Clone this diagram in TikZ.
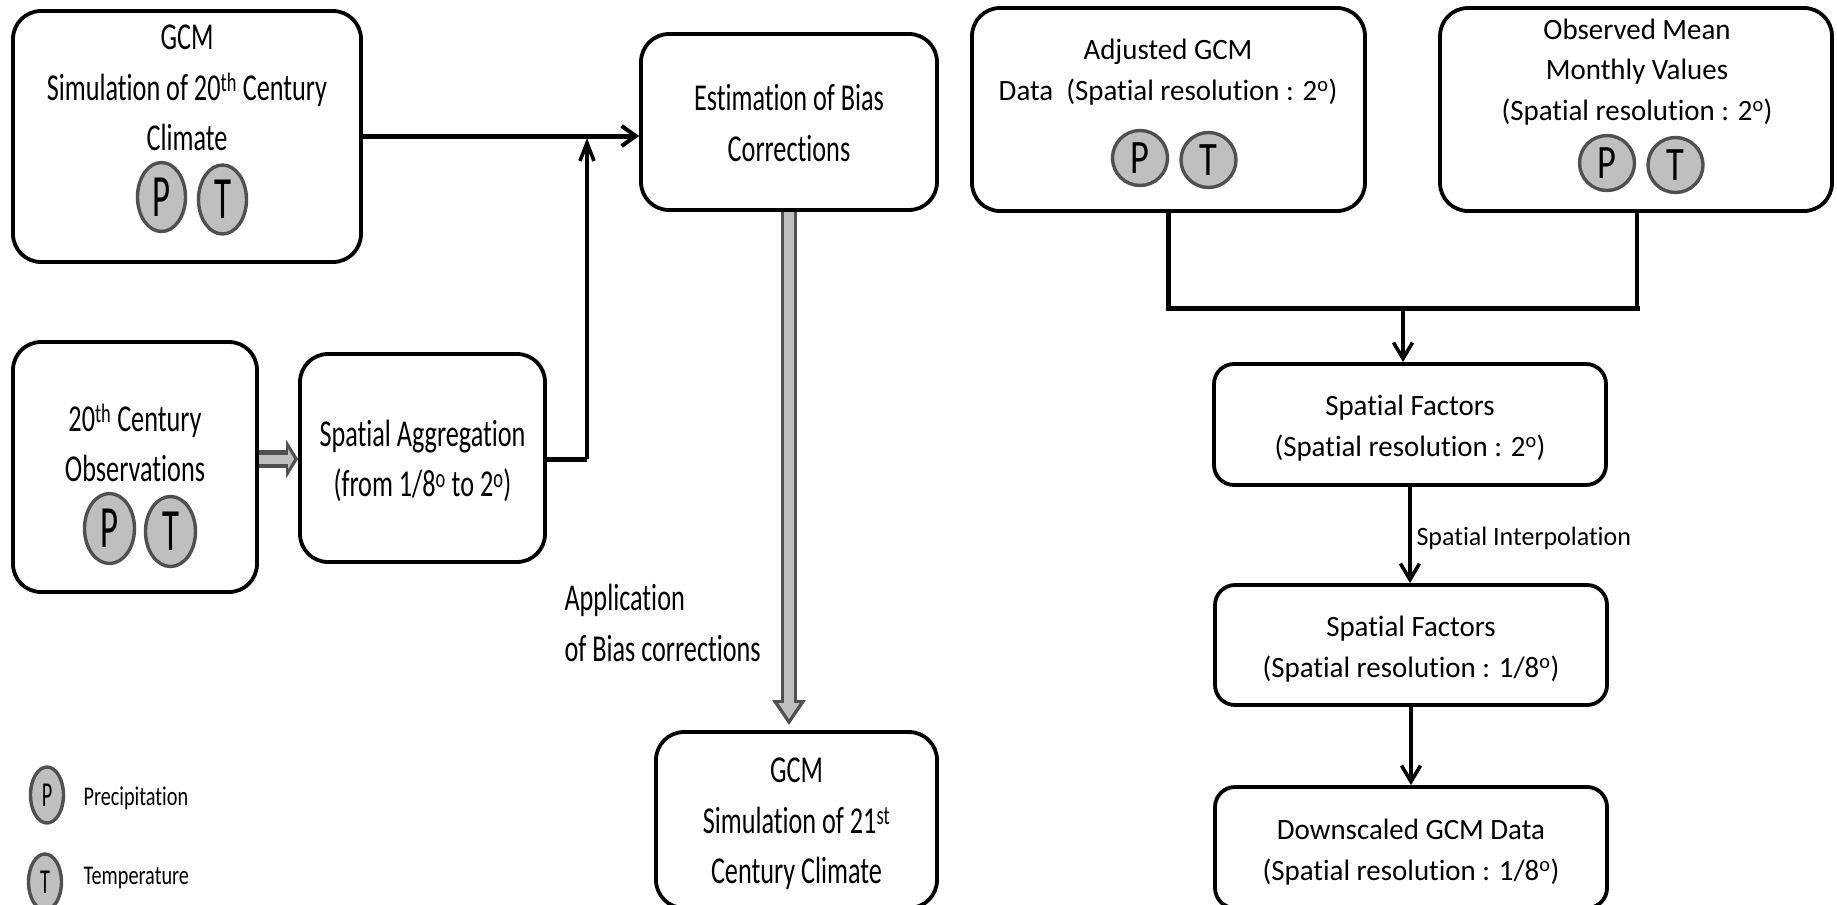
\documentclass[tikz,border=0pt]{standalone}
\usepackage{fontspec}
\setmainfont{Carlito}
\newfontfamily\narrowfont[FakeStretch=0.69,Ligatures=NoCommon]{Carlito}
\newfontfamily\plainfont[FakeStretch=0.98,Ligatures=NoCommon]{Carlito}
\newfontfamily\thinletter[FakeStretch=0.58]{Carlito}
\newfontfamily\midletter[FakeStretch=0.76]{Carlito}
\newfontfamily\legendfont[FakeStretch=0.75,Ligatures=NoCommon]{Carlito}
\usetikzlibrary{arrows.meta,shapes.geometric}
\definecolor{circlefill}{HTML}{BFBFBF}
\definecolor{circleline}{HTML}{505050}
\tikzset{
  boxnode/.style={draw, rounded corners=28pt, line width=3.8pt, inner sep=0pt},
  bigtext/.style={align=center, font=\narrowfont\fontsize{38}{50.5}\selectfont},
  midtext/.style={align=center, font=\plainfont\fontsize{29.5}{40.5}\selectfont},
  smalltext/.style={font=\legendfont\fontsize{27}{30}\selectfont},
  pcircle/.style 2 args={draw=circleline, fill=circlefill, ellipse, line width=3.4pt, inner sep=0pt, minimum width=#1, minimum height=#2},
  thinpt/.style={font=\thinletter\fontsize{60}{60}\selectfont},
  midpt/.style={font=\midletter\fontsize{48}{48}\selectfont},
  legendpt/.style={font=\thinletter\fontsize{35}{35}\selectfont},
  arrowline/.style={-{Straight Barb[length=16pt,width=19pt,line width=3.6pt]}, line width=3.6pt},
  barline/.style={line width=5pt},
  blockouter/.style={draw=circleline, line width=#1},
  blockinner/.style={draw=circlefill, line width=#1}
}
\begin{document}
\begin{tikzpicture}[x=1pt,y=-1pt]
    \useasboundingbox (0,0) rectangle (1837,905);
    % left column
    \node[boxnode, minimum width=348pt, minimum height=251pt] (gcmtwenty) at (187,136.5) {};
    \node[bigtext] (gcmtwentytext) at (187,88) {GCM\\Simulation of 20\textsuperscript{th} Century\\Climate};
    \node[pcircle={48pt}{69pt}, thinpt] (gcmp) at (161.5,197) {P};
    \node[pcircle={48pt}{69pt}, thinpt] (gcmt) at (222.5,199.5) {T};
    \node[boxnode, minimum width=244pt, minimum height=250pt] (obstwenty) at (135,467) {};
    \node[bigtext] (obstwentytext) at (135,443) {20\textsuperscript{th} Century\\Observations};
    \node[pcircle={50pt}{70pt}, thinpt] (obsp) at (109.5,528.5) {P};
    \node[pcircle={50pt}{70pt}, thinpt] (obst) at (170.5,531.5) {T};
    \node[boxnode, minimum width=245pt, minimum height=208pt] (aggr) at (422.5,458) {};
    \node[bigtext] (aggrtext) at (422.5,461) {Spatial Aggregation\\(from 1/8\textsuperscript{o} to 2\textsuperscript{o})};
    % middle column
    \node[boxnode, minimum width=296pt, minimum height=176pt] (bias) at (789,122) {};
    \node[bigtext] (biastext) at (789,123) {Estimation of Bias\\Corrections};
    \node[boxnode, minimum width=281pt, minimum height=176pt] (gcmfuture) at (796.5,820) {};
    \node[bigtext] (gcmfuturetext) at (796.5,824) {GCM\\Simulation of 21\textsuperscript{st}\\Century Climate};
    \node[bigtext, align=left, anchor=west] (applytext) at (561,623) {Application\\of Bias corrections};
    % right column
    \node[boxnode, minimum width=393pt, minimum height=203pt] (adjgcm) at (1168.5,109.5) {};
    \node[midtext] (adjgcmtext) at (1168,72) {Adjusted GCM\\Data\ \ (Spatial resolution : 2\textsuperscript{o})};
    \node[pcircle={55pt}{55pt}, midpt] (adjp) at (1140,158) {P};
    \node[pcircle={55pt}{55pt}, midpt] (adjt) at (1208.5,160) {T};
    \node[boxnode, minimum width=392pt, minimum height=203pt] (obsmean) at (1636,109.5) {};
    \node[midtext] (obsmeantext) at (1637,72) {Observed Mean\\Monthly Values\\(Spatial resolution : 2\textsuperscript{o})};
    \node[pcircle={55pt}{55pt}, midpt] (obsmeanp) at (1607,163) {P};
    \node[pcircle={55pt}{55pt}, midpt] (obsmeant) at (1675.5,165) {T};
    \node[boxnode, rounded corners=20pt, minimum width=392pt, minimum height=121pt] (spatialtwo) at (1410,424.5) {};
    \node[midtext] (spatialtwotext) at (1410,428) {Spatial Factors\\(Spatial resolution : 2\textsuperscript{o})};
    \node[boxnode, rounded corners=20pt, minimum width=392pt, minimum height=120pt] (spatialeight) at (1411,645) {};
    \node[midtext] (spatialeighttext) at (1411,649) {Spatial Factors\\(Spatial resolution : 1/8\textsuperscript{o})};
    \node[boxnode, rounded corners=20pt, minimum width=392pt, minimum height=121pt] (downgcm) at (1411,847.5) {};
    \node[midtext] (downgcmtext) at (1411,852) {Downscaled GCM Data\\(Spatial resolution : 1/8\textsuperscript{o})};
    \node[font=\plainfont\fontsize{26.5}{30}\selectfont, anchor=west] (interptext) at (1413,538) {Spatial Interpolation};
    % legend
    \node[pcircle={33pt}{56pt}, legendpt] (legendp) at (47,795) {P};
    \node[smalltext, anchor=west] (legendptext) at (80,798) {Precipitation};
    \node[pcircle={33pt}{56pt}, legendpt] (legendt) at (45,882) {T};
    \node[smalltext, anchor=west] (legendttext) at (80,878) {Temperature};
    % connectors left
    \coordinate (aggrbend) at (587,459);
    \draw[arrowline, line width=5pt, -{Straight Barb[length=14pt,width=20pt,line width=4pt]}] (gcmtwenty.east |- 0,136) -- (bias.west |- 0,136);
    \draw[barline] (aggr.east |- aggrbend) -- (aggrbend);
    \draw[arrowline, -{Straight Barb[length=18pt,width=14pt,line width=3.6pt]}] (aggrbend) -- (587,138);
    \draw[blockouter=18pt, -{Triangle[length=12pt,width=38pt]}] (obstwenty.east |- aggrbend) -- (aggr.west |- aggrbend);
    \draw[blockinner=9pt, shorten >=4pt, -{Triangle[length=6pt,width=20pt]}] (obstwenty.east |- aggrbend) -- (aggr.west |- aggrbend);
    \draw[blockouter=16pt, shorten >=5pt, -{Triangle[length=25pt,width=32pt]}] (bias.south) -- (gcmfuture.north -| bias.south);
    \draw[blockinner=10pt, shorten >=11pt, -{Triangle[length=16pt,width=20pt]}] (bias.south) -- (gcmfuture.north -| bias.south);
    % connectors right
    \coordinate (adjdown) at (adjgcm.south |- 0,308);
    \coordinate (obsdown) at (1637,308);
    \coordinate (joinpoint) at (1403,308);
    \draw[line width=4.5pt] (adjgcm.south) -- (adjdown);
    \draw[line width=4.5pt] (obsmean.south -| obsdown) -- (obsdown);
    \draw[barline, line cap=rect] (adjdown) -- (obsdown);
    \draw[arrowline] (joinpoint) -- (joinpoint |- spatialtwo.north);
    \draw[arrowline] (spatialtwo.south) -- (spatialtwo.south |- spatialeight.north);
    \draw[arrowline] (spatialeight.south) -- (downgcm.north);
\end{tikzpicture}
\end{document}
